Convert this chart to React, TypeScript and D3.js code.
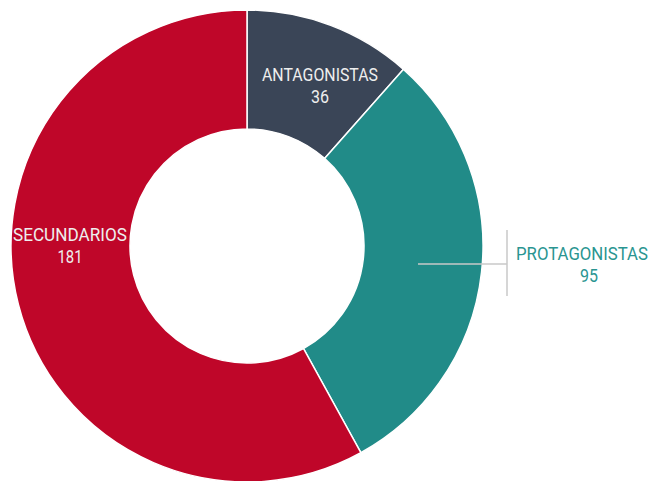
import React from "react";
import * as d3 from "d3";

const categories = ["ANTAGONISTAS", "PROTAGONISTAS", "SECUNDARIOS"];
const values = [36, 95, 181];
const colors = ["#3A4557", "#218B88", "#BF0629"];

const W = 655, H = 481;
const cx = 247, cy = 246, R = 236, r = 117;

export default function App() {
  const pie = d3.pie<number>().sort(null).value((d) => d)(values);
  const arc = d3.arc<d3.PieArcDatum<number>>().innerRadius(r).outerRadius(R);
  const font = "Roboto, 'Liberation Sans', sans-serif";
  return (
    <svg width={W} height={H} style={{ position: "absolute", left: 0, top: 0 }}>
      <g transform={`translate(${cx},${cy})`}>
        {pie.map((p, i) => (
          <path key={i} d={arc(p) || ""} fill={colors[i]} stroke="#fff" strokeWidth={1.5} />
        ))}
      </g>
      {/* leader for protagonistas */}
      <line x1={418} x2={507} y1={264} y2={264} stroke="#c8c8c8" strokeWidth={1.5} />
      <line x1={507} x2={507} y1={230} y2={296} stroke="#c8c8c8" strokeWidth={1.5} />
      <g fontFamily={font} fontSize={19} fontWeight={400} textAnchor="middle">
        <text x={320} y={81} fill="#eeeeee" textLength={116} lengthAdjust="spacingAndGlyphs">{categories[0]}</text>
        <text x={320} y={103} fill="#eeeeee" textLength={18} lengthAdjust="spacingAndGlyphs">{values[0]}</text>
        <text x={70} y={241} fill="#eeeeee" textLength={114} lengthAdjust="spacingAndGlyphs">{categories[2]}</text>
        <text x={70} y={263} fill="#eeeeee" textLength={25} lengthAdjust="spacingAndGlyphs">{values[2]}</text>
        <text x={582} y={260} fill="#2A9591" textLength={132} lengthAdjust="spacingAndGlyphs">{categories[1]}</text>
        <text x={589} y={282} fill="#2A9591" textLength={18} lengthAdjust="spacingAndGlyphs">{values[1]}</text>
      </g>
    </svg>
  );
}
